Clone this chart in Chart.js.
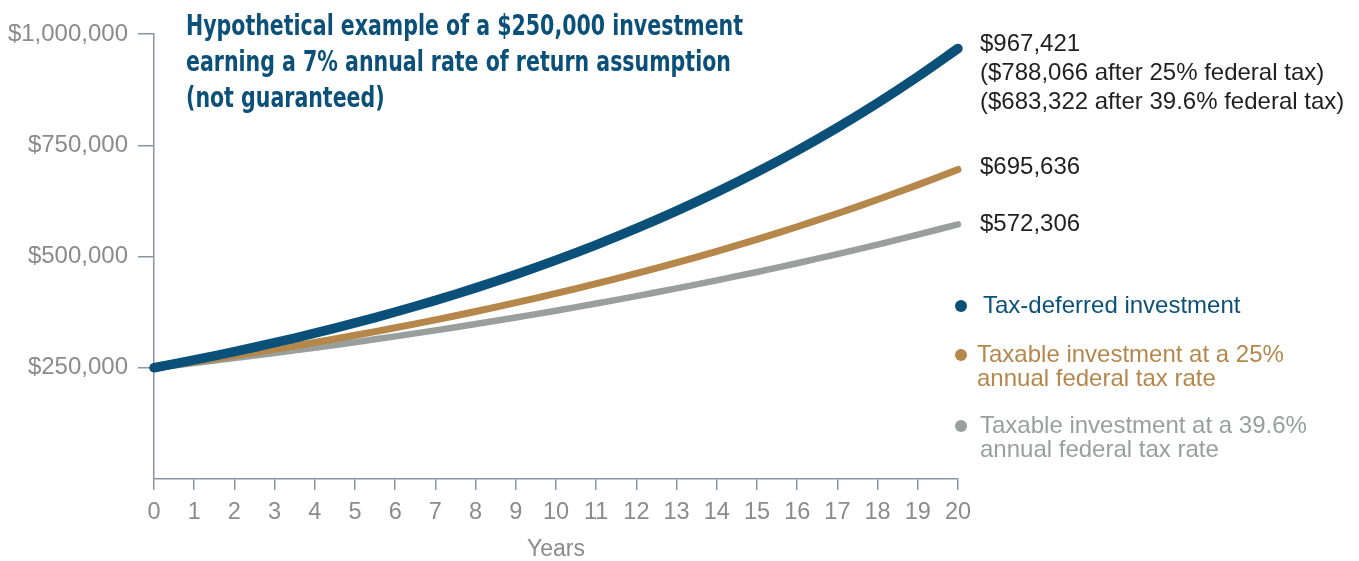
<!DOCTYPE html>
<html>
<head>
<meta charset="utf-8">
<script src="https://cdn.jsdelivr.net/npm/chart.js@4.4.0/dist/chart.umd.min.js"></script>
<style>
html, body { margin: 0; padding: 0; background: #fff; }
#wrap { position: relative; width: 1359px; height: 561px; }
</style>
</head>
<body>
<div id="wrap"><canvas id="growthChart" width="1359" height="561"></canvas></div>
<script>
const years = [0, 1, 2, 3, 4, 5, 6, 7, 8, 9, 10, 11, 12, 13, 14, 15, 16, 17, 18, 19, 20];
const taxDeferred = [250000, 267500, 286225, 306261, 327699, 350638, 375183, 401445, 429547, 459615, 491788,
    526213, 563048, 602461, 644634, 689758, 738041, 789704, 844983, 904132, 967421];
const taxable25 = [250000, 263125, 276939, 291478, 306781, 322887, 339839, 357680, 376458, 396222, 417024,
    438918, 461961, 486214, 511740, 538607, 566883, 596645, 627969, 660937, 695636];
const taxable396 = [250000, 260570, 271587, 283070, 295038, 307512, 320514, 334065, 348189, 362911, 378254,
    394247, 410916, 428289, 446397, 465271, 484942, 505446, 526816, 549090, 572306];
const yTicks = [0, 250000, 500000, 750000, 1000000];

const seriesNames = [
    ['Tax-deferred investment'],
    ['Taxable investment at a 25%', 'annual federal tax rate'],
    ['Taxable investment at a 39.6%', 'annual federal tax rate']
];
const endLabels = [
    ['$967,421', '($788,066 after 25% federal tax)', '($683,322 after 39.6% federal tax)'],
    ['$695,636'],
    ['$572,306']
];
const titleLines = [
    'Hypothetical example of a $250,000 investment',
    'earning a 7% annual rate of return assumption',
    '(not guaranteed)'
];

const BLUE = '#0b5079', GOLD = '#b5874b', GREY = '#989f9c';
const AXIS = '#8695a7', TICK = '#8b8b8b', INK = '#231f20';
const FONT = '"Liberation Sans", Arial, Helvetica, sans-serif';
const colors = [BLUE, GOLD, GREY];

const pts = arr => arr.map((v, i) => ({ x: years[i], y: v }));

// title, end-value labels and the side legend
const annotate = {
    id: 'annotate',
    afterDraw(chart) {
        const { ctx, scales: { x } } = chart;
        ctx.save();
        ctx.textBaseline = 'alphabetic';
        ctx.textAlign = 'left';

        // title (condensed bold)
        ctx.fillStyle = BLUE;
        ctx.font = 'bold 29px "Liberation Sans Narrow", "DejaVu Sans Condensed", "Liberation Sans", sans-serif';
        const sx = 557 / ctx.measureText(titleLines[0]).width;
        titleLines.forEach((t, i) => {
            ctx.save();
            ctx.translate(186, 35 + i * 36);
            ctx.scale(sx, 1);
            ctx.fillText(t, 0, 0);
            ctx.restore();
        });

        // values at year 20
        const xl = x.getPixelForValue(20) + 22;
        ctx.font = '24px ' + FONT;
        ctx.fillStyle = INK;
        const endBase = [51, 174, 231];
        endLabels.forEach((lines, k) => {
            lines.forEach((t, i) => ctx.fillText(t, xl, endBase[k] + i * 29));
        });

        // legend
        const legBase = [313, 362, 433];
        const legX = [983, 977, 980];
        seriesNames.forEach((lines, k) => {
            ctx.fillStyle = colors[k];
            ctx.beginPath();
            ctx.arc(961, legBase[k] - 7, 6, 0, Math.PI * 2);
            ctx.fill();
            lines.forEach((t, i) => ctx.fillText(t, legX[k], legBase[k] + i * 24));
        });
        ctx.restore();
    }
};

const line = (data, color, width) => ({
    data: pts(data),
    borderColor: color,
    borderWidth: width,
    borderCapStyle: 'round',
    borderJoinStyle: 'round',
    pointRadius: 0,
    tension: 0.3,
    fill: false,
    clip: 12
});

new Chart(document.getElementById('growthChart'), {
    type: 'line',
    data: {
        datasets: [
            line(taxDeferred, BLUE, 9.5),
            line(taxable25, GOLD, 7),
            line(taxable396, GREY, 6.5)
        ]
    },
    options: {
        responsive: false,
        animation: false,
        layout: { padding: { left: 0, right: 401, top: 34, bottom: 0 } },
        plugins: { legend: { display: false }, tooltip: { enabled: false } },
        scales: {
            x: {
                type: 'linear',
                min: 0,
                max: 20,
                afterFit: s => { s.height = 82; },
                afterBuildTicks: s => { s.ticks = years.map(v => ({ value: v })); },
                ticks: { color: TICK, font: { size: 23.5, family: FONT }, padding: 8, maxRotation: 0, autoSkip: false },
                grid: { drawOnChartArea: false, drawTicks: true, tickLength: 11, color: AXIS, lineWidth: 1.5 },
                border: { display: true, color: AXIS, width: 1.5 },
                title: { display: true, text: 'Years', color: TICK, font: { size: 23, family: FONT }, padding: { top: 0, bottom: -2 } }
            },
            y: {
                type: 'linear',
                min: 0,
                max: 1000000,
                afterFit: s => { s.width = 154; },
                afterBuildTicks: s => { s.ticks = yTicks.map(v => ({ value: v })); },
                ticks: {
                    color: TICK, font: { size: 24, family: FONT }, padding: 10,
                    callback: v => v === 0 ? '' : '$' + v.toLocaleString('en-US')
                },
                grid: {
                    drawOnChartArea: false, drawTicks: true, tickLength: 16, lineWidth: 1.5,
                    color: c => (c.tick && c.tick.value === 0) ? 'rgba(0,0,0,0)' : AXIS
                },
                border: { display: true, color: AXIS, width: 1.5 }
            }
        }
    },
    plugins: [annotate]
});
</script>
</body>
</html>
